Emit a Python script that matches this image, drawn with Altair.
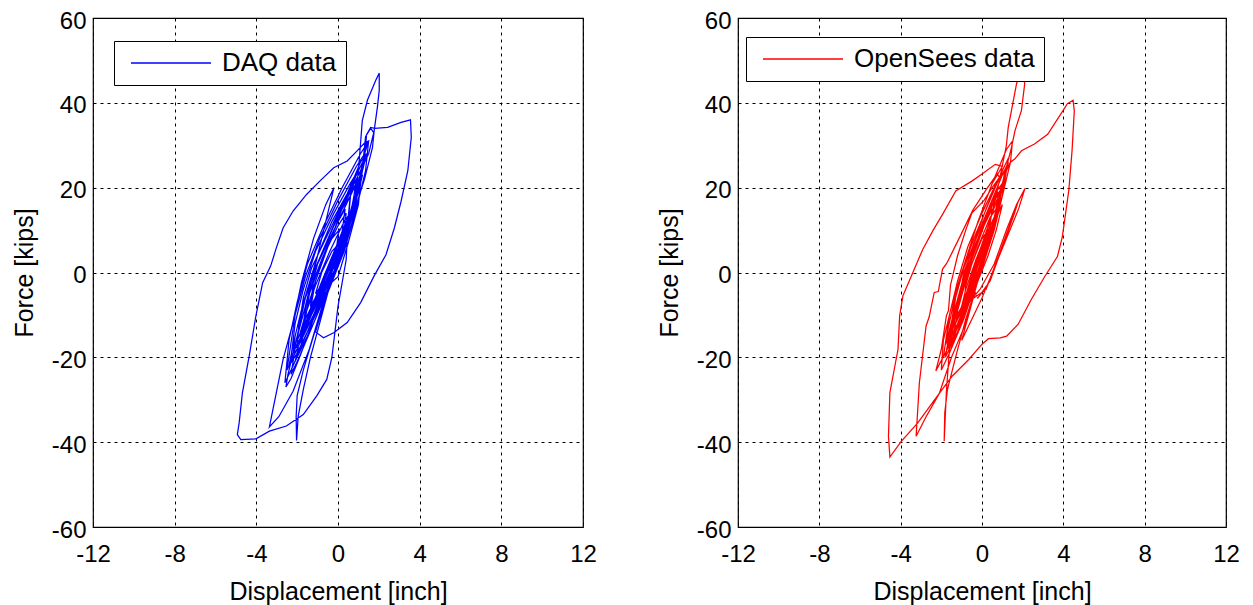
import altair as alt
import pandas as pd

# ---------------- DAQ data (blue) ----------------
daq_core_x = [-0.6, -0.1, 0.05, -0.3, -0.8, -1.2, -1.35, -1.0, -0.3,
              0.1, 0.35, 0.0, -0.6, -1.2, -1.5, -1.7, -1.3, -0.6,
              0.1, 0.5, 0.65, 0.2, -0.5, -1.3, -1.7, -2.0, -1.6, -0.9,
              -0.1, 0.5, 0.9, 1.0, 0.6, -0.2, -1.1, -1.7, -2.1, -2.3, -1.9, -1.1, -0.3]
daq_core_y = [0, 5, 10, 8, 3, -2, -8, -5, 0,
              6, 15, 12, 6, 0, -6, -12, -8, -2,
              4, 12, 20, 16, 9, 1, -6, -16, -12, -5,
              2, 10, 18, 24, 21, 14, 5, -4, -12, -20, -16, -8, -1]
daq_peak_x = [0.4, 0.8, 1.0, 1.19, 1.44, 1.85, 2.02, 2.02, 1.93, 1.77, 1.69, 1.3, 0.7, 0.1, -0.6,
              -1.2, -1.7, -2.0, -2.05, -2.03, -1.95, -1.7, -1.35, -0.9, -0.4]
daq_peak_y = [8, 16, 24, 35.8, 40.6, 45.3, 47.0, 42.9, 39.0, 33.4, 29.5, 22, 13, 4, -6,
              -15, -23, -29, -34, -39.6, -33.9, -27.6, -20, -12, -3]
daq_mid_x = [0.4, 1.0, 1.3, 0.9, 0.0, -0.9, -1.6, -2.1, -2.5, -2.1, -1.3, -0.4]
daq_mid_y = [7, 17, 28, 25, 17, 8, -1, -10, -23, -19, -11, -3]
daq_right_x = [0.3, 0.9, 1.3, 1.4, 1.6, 1.8, 2.43, 3.09, 3.55, 3.59,
               3.42, 3.09, 2.76, 2.35, 1.77, 1.11, 0.45, -0.21, -0.71, -1.1]
daq_right_y = [6, 17, 27, 32.5, 34.2, 34.0, 34.2, 35.4, 36.0, 31.9,
               24.0, 16.8, 10.5, 4.2, -0.8, -7.1, -11.8, -14.2, -15.4, -14]
daq_fill_x = [-0.6, 0.3, 0.9, 1.35, 1.5, 1.1, 0.2, -0.7, -1.5, -2.0, -2.4, -2.6, -2.2, -1.5, -0.7,
              0.0, 0.6, 0.9, 0.5, -0.3, -1.0, -1.5, -1.9, -2.0, -1.6, -1.0, -0.4]
daq_fill_y = [-6, 5, 15, 24, 31, 28, 20, 11, 2, -7, -16, -26, -22, -14, -6,
              2, 12, 22, 19, 12, 4, -4, -11, -18, -14, -8, -2]
daq_more_x = [-0.4, 0.3, 0.7, 0.9, 0.5, -0.3, -1.1, -1.7, -2.1, -2.2, -1.8, -1.1, -0.5,
              0.2, 0.6, 0.3, -0.4, -1.1, -1.6, -1.9, -1.5, -0.8, -0.2,
              0.5, 1.0, 1.2, 0.8, 0.0, -0.8, -1.4, -1.9, -2.3, -2.0, -1.3, -0.6,
              0.1, 0.7, 1.1, 1.4, 1.1, 0.4, -0.4, -1.2, -1.8, -2.2, -2.4, -2.0, -1.3, -0.6,
              -0.1, 0.3, 0.0, -0.6, -1.2, -1.5, -1.1, -0.5]
daq_more_y = [1, 9, 16, 21, 18, 10, 1, -7, -15, -19, -15, -7, 0,
              8, 14, 12, 5, -3, -10, -15, -12, -5, 2,
              11, 19, 23, 20, 12, 3, -5, -13, -21, -18, -10, -2,
              6, 15, 22, 28, 26, 18, 9, 0, -9, -17, -22, -19, -12, -4,
              3, 9, 7, 0, -7, -11, -8, -1]
daq_dense_x = [-0.5, -0.1, 0.2, 0.0, -0.5, -1.0, -1.2, -0.9, -0.4, 0.1,
               0.4, 0.2, -0.3, -0.9, -1.3, -1.5, -1.2, -0.7, -0.2, 0.3,
               0.6, 0.4, -0.1, -0.7, -1.2, -1.6, -1.8, -1.5, -1.0, -0.5,
               0.0, 0.5, 0.8, 0.6, 0.0, -0.6, -1.1, -1.4, -1.1, -0.6]
daq_dense_y = [-2, 4, 9, 7, 1, -5, -9, -6, 0, 6,
               11, 9, 3, -4, -9, -13, -10, -4, 2, 8,
               14, 12, 6, -1, -7, -12, -17, -14, -8, -2,
               4, 10, 16, 14, 7, -1, -7, -11, -8, -3]
daq_left_x = [0.3, 0.9, 1.3, 1.5, 1.3, 0.9, 0.45, -0.21, -0.88, -1.54, -2.2, -2.69, -3.02, -3.3,
              -3.69, -4.02, -4.35, -4.68, -4.84, -4.93, -4.76, -4.02, -3.36, -2.53, -1.7, -1.04, -0.55, -0.3]
daq_left_y = [8, 19, 28, 31, 30.5, 28.5, 26.3, 24.7, 21.6, 18.4, 14.5, 10.5, 5.8, 1.5,
              -2.4, -10.2, -19.7, -28.3, -35.4, -38.2, -39.4, -39.2, -37.4, -36.2, -33.5, -29.1, -25.2, -20]
daq_inner_x = [0.0, 0.4, 0.5, 0.6, 0.2, -0.4, -1.0, -1.4, -1.7, -1.3, -0.7,
               0.0, 0.5, 1.0, 1.2, 0.9, 0.2, -0.5, -1.1, -1.6, -2.1, -1.8, -1.2, -0.6]
daq_inner_y = [-8, 3, 13, 18, 15, 9, 2, -5, -14, -10, -4,
               -1, 7, 16, 26, 23, 15, 6, -2, -10, -21, -18, -12, -5]
daq_low_x = [-1.4, -2.2, -2.9, -3.36, -3.02, -2.69, -2.2, -1.79, -1.2, -0.6,
             -0.2, -0.6, -1.1, -1.6, -2.1, -2.45, -2.55, -2.3, -1.8]
daq_low_y = [-18, -28, -34, -36.4, -28.3, -20.5, -11.8, -2.4, 8, 16,
             20, 12, 2, -8, -17, -24, -27, -25, -19]
daq_end_x = [-1.2, -0.6, -0.1, 0.3, 0.4, 0.0, -0.6, -1.1, -1.4, -1.0, -0.5,
             0.2, 0.8, 1.2, 1.35, 1.6, 1.75, 1.5, 0.7, -0.2, -1.0, -1.6, -2.0, -2.3, -1.9, -1.2, -0.5,
             -0.2, 0.1, -0.3, -0.8, -1.1, -0.8, -0.4]
daq_end_y = [-11, -3, 3, 10, 14, 11, 5, -2, -10, -7, -2,
             6, 16, 25, 32, 34, 33, 28, 20, 11, 2, -6, -15, -24, -20, -12, -4,
             2, 7, 5, 0, -5, -3, 1]

# ---------------- OpenSees data (red) ----------------
ops_core_x = [-0.2, 0.2, 0.3, 0.0, -0.5, -0.8, -0.9, -0.6, -0.1,
              0.3, 0.5, 0.2, -0.4, -0.9, -1.1, -1.3, -0.9, -0.4,
              0.1, 0.6, 0.8, 0.4, -0.2, -0.9, -1.3, -1.6, -1.2, -0.6]
ops_core_y = [0, 6, 10, 8, 2, -3, -8, -5, 1,
              8, 15, 12, 6, 0, -6, -12, -8, -2,
              3, 12, 19, 16, 9, 1, -6, -16, -12, -5]
ops_peak_x = [0.0, 0.7, 1.2, 1.29, 1.45, 1.7, 1.95, 2.1, 1.94, 1.62, 1.45, 1.0, 0.3, -0.4, -0.9]
ops_peak_y = [5, 18, 30, 34.2, 38.2, 44.5, 48.5, 44.5, 38.2, 33.4, 29.5, 21, 11, 1, -7]
ops_mid_x = [0.0, 0.6, 1.0, 1.1, 0.7, 0.0, -0.7, -1.2, -1.6, -1.9, -1.5, -0.8,
             -0.1, 0.6, 1.2, 1.7, 2.11, 1.8, 1.2, 0.6, 0.0, -0.6, -1.0]
ops_mid_y = [1, 10, 18, 24, 21, 14, 6, -2, -10, -20, -16, -8,
             -4, 2, 10, 16, 19.8, 15, 8, 1, -6, -12, -16]
ops_e_x = [-0.6, -0.1, 0.5, 1.0, 1.3, 1.0, 0.3, -0.4, -1.0, -1.5, -1.9, -2.0, -1.6, -0.9]
ops_e_y = [-9, 0, 9, 18, 27, 24, 16, 8, 0, -8, -16, -23, -19, -11]
ops_loop_x = [-0.2, 0.4, 0.8, 1.1, 1.4, 1.62, 1.94, 2.58, 3.23, 3.88, 4.2, 4.48, 4.54, 4.43, 4.27,
              3.95, 3.71, 3.08, 2.43, 1.78, 1.21, 0.9, 0.32, 0.0, -0.65, -1.46, -2.1, -3.17, -3.97, -4.53,
              -4.6, -4.53, -4.13, -4.05, -3.89, -3.4, -2.91, -2.4, -1.94, -1.29, -0.48, 0.0, 0.65, 1.0]
ops_loop_y = [-1, 9, 17, 23, 26, 26.8, 28.7, 30.3, 32.6, 37.4, 39.8, 40.6, 38.1, 28.8, 19.4,
              8.4, 3.75, -1.0, -6.3, -12.2, -15.0, -15.4, -15.6, -16.9, -20.5, -24.4, -28.5, -35.5, -39.8, -43.5,
              -38.6, -28.3, -18.1, -10.2, -5.5, 0.0, 5.5, 10, 13.7, 19.2, 21.6, 23.2, 25.5, 25]
ops_fill_x = [0.5, -0.2, -0.8, -1.3, -1.7, -1.6, -1.2, -0.7, -0.2, 0.4, 0.9, 1.4, 1.5, 1.2, 0.5, -0.2, -0.8,
              -1.3, -1.5, -1.1, -0.4, 0.0, 0.5, 0.7, 0.4, -0.2, -0.8, -1.2, -1.4, -1.0, -0.4]
ops_fill_y = [21, 12, 3, -5, -14, -19, -14, -7, -2, 7, 16, 26, 31, 29, 21, 12, 3,
              -5, -12, -9, -2, 1, 9, 15, 13, 6, -2, -9, -15, -11, -4]
ops_more_x = [-0.2, 0.3, 0.7, 0.9, 0.6, 0.0, -0.6, -1.0, -1.4, -1.6, -1.3, -0.8, -0.3,
              0.2, 0.5, 0.2, -0.3, -0.8, -1.1, -0.8, -0.3,
              0.3, 0.8, 1.1, 1.3, 1.0, 0.4, -0.2, -0.8, -1.2, -1.6, -1.8, -1.5, -1.0, -0.4,
              0.2, 0.7, 1.0, 0.7, 0.1, -0.5, -1.0, -1.3, -1.0, -0.5,
              0.0, 0.4, 0.1, -0.4, -0.7, -0.4]
ops_more_y = [0, 7, 14, 19, 17, 10, 2, -5, -12, -17, -14, -7, -1,
              6, 11, 9, 3, -4, -10, -7, -1,
              8, 16, 22, 26, 23, 16, 8, 0, -7, -14, -20, -17, -10, -3,
              5, 13, 20, 18, 11, 3, -5, -11, -8, -2,
              2, 8, 6, 0, -5, -2]
ops_dense_x = [-0.3, 0.0, 0.3, 0.1, -0.3, -0.7, -0.9, -0.6, -0.2, 0.2,
               0.5, 0.3, -0.1, -0.6, -1.0, -1.2, -0.9, -0.5, 0.0, 0.4,
               0.7, 0.5, 0.0, -0.5, -0.9, -1.3, -1.5, -1.2, -0.7, -0.2,
               0.3, 0.7, 1.0, 0.8, 0.2, -0.4, -0.9, -1.1, -0.8, -0.3]
ops_dense_y = [-2, 4, 9, 7, 1, -5, -9, -6, 0, 6,
               11, 9, 3, -4, -9, -13, -10, -4, 2, 8,
               14, 12, 6, -1, -7, -12, -17, -14, -8, -2,
               4, 10, 16, 14, 7, -1, -7, -11, -8, -3]
ops_inner_x = [-0.8, -1.5, -2.1, -2.75, -3.24, -3.08, -2.75, -2.6, -2.35, -2.15,
               -1.94, -1.73, -1.09, -0.45, 0.19, 0.75, 0.9]
ops_inner_y = [-12, -20, -28.5, -34, -38.6, -26, -12.6, -10.5, -4.7, -4.5,
               0.8, 2.2, 8.4, 14.7, 19.4, 23.3, 22]
ops_spike_x = [0.3, -0.3, -0.9, -1.3, -1.6, -1.75, -1.86, -1.83, -1.7, -1.3, -0.8, -0.2,
               0.4, 0.9, 1.0, 0.7, 0.1, -0.5, -1.0, -1.4, -1.7, -1.3, -0.7]
ops_spike_y = [14, 6, -2, -10, -18, -28, -39.8, -33, -27.6, -20, -11, -2,
               8, 17, 21, 19, 12, 4, -4, -11, -18, -14, -7]
ops_end_x = [-1.2, -1.8, -2.27, -2.0, -1.75, -1.65, -1.55, -1.2, -0.8, -0.5,
             0.1, 0.5, 0.8, 1.1, 0.8, 0.2, -0.4, -0.9, -1.3, -1.8, -1.5, -0.9,
             -0.4, 0.2, 0.9, 1.5, 1.8, 1.6, 1.0, 0.4, -0.2, -0.5, -0.2]
ops_end_y = [-13, -19, -23.2, -18.1, -10.2, -9, -3, 4, 10, 14,
             17, 20, 22, 25, 22, 15, 7, -1, -8, -17, -14, -7,
             -6, -4, 5, 13, 17, 14, 6, -2, -6, -3, 0]

x_ticks = [-12, -8, -4, 0, 4, 8, 12]
y_ticks = [-60, -40, -20, 0, 20, 40, 60]

daq_x = (daq_core_x + daq_peak_x + daq_mid_x + daq_right_x + daq_fill_x + daq_more_x
         + daq_dense_x + daq_left_x + daq_inner_x + daq_low_x + daq_end_x)
daq_y = (daq_core_y + daq_peak_y + daq_mid_y + daq_right_y + daq_fill_y + daq_more_y
         + daq_dense_y + daq_left_y + daq_inner_y + daq_low_y + daq_end_y)
ops_x = (ops_core_x + ops_peak_x + ops_mid_x + ops_e_x + ops_loop_x + ops_fill_x
         + ops_more_x + ops_dense_x + ops_inner_x + ops_spike_x + ops_end_x)
ops_y = (ops_core_y + ops_peak_y + ops_mid_y + ops_e_y + ops_loop_y + ops_fill_y
         + ops_more_y + ops_dense_y + ops_inner_y + ops_spike_y + ops_end_y)

FONT = "Liberation Sans"


def panel(xs, ys, name, color, lx, ly, w):
    df = pd.DataFrame({"disp": xs, "force": ys,
                       "step": list(range(len(xs))), "series": [name] * len(xs)})
    return alt.Chart(df).mark_line(strokeWidth=1.25).encode(
        x=alt.X("disp:Q", scale=alt.Scale(domain=[-12, 12], nice=False, zero=False),
                axis=alt.Axis(values=x_ticks, title="Displacement [inch]",
                              labelExpr="'' + datum.value", labelFlush=False,
                              labelPadding=15, titlePadding=13)),
        y=alt.Y("force:Q", scale=alt.Scale(domain=[-60, 60], nice=False, zero=False),
                axis=alt.Axis(values=y_ticks, title="Force [kips]",
                              labelExpr="'' + datum.value", labelFlush=False,
                              labelOffset=3, labelPadding=7, titlePadding=14)),
        order=alt.Order("step:Q"),
        color=alt.Color("series:N", scale=alt.Scale(domain=[name], range=[color]),
                        legend=alt.Legend(title=None, orient="none", legendX=lx, legendY=ly,
                                          symbolType="M-4,0H4", symbolSize=400,
                                          symbolStrokeWidth=1.5, symbolOffset=35,
                                          labelOffset=38, labelLimit=400,
                                          labelFontSize=26, labelFont=FONT, labelColor="black",
                                          padding=9, strokeColor="black", fillColor="white")),
    ).properties(width=w, height=509)


left = panel(daq_x, daq_y, "DAQ data", "#0000ff", 21, 23, 490)
right = panel(ops_x, ops_y, "OpenSees data", "#ff0000", 8, 19, 488)

chart = alt.hconcat(left, right, spacing=59).resolve_scale(
    color="independent"
).resolve_legend(color="independent").properties(
    padding={"left": 3, "top": 0, "right": 0, "bottom": 0}
).configure(font=FONT).configure_axis(
    labelFontSize=24, titleFontSize=25, titleFontWeight="normal",
    labelColor="black", titleColor="black", labelFont=FONT, titleFont=FONT,
    grid=True, gridColor="black", gridDash=[3, 4], gridWidth=1, gridOpacity=1,
    domain=False, ticks=False, tickSize=0
).configure_view(stroke="black", strokeWidth=1.2)

chart.save("out.html", embed_options={"renderer": "svg", "actions": False})
